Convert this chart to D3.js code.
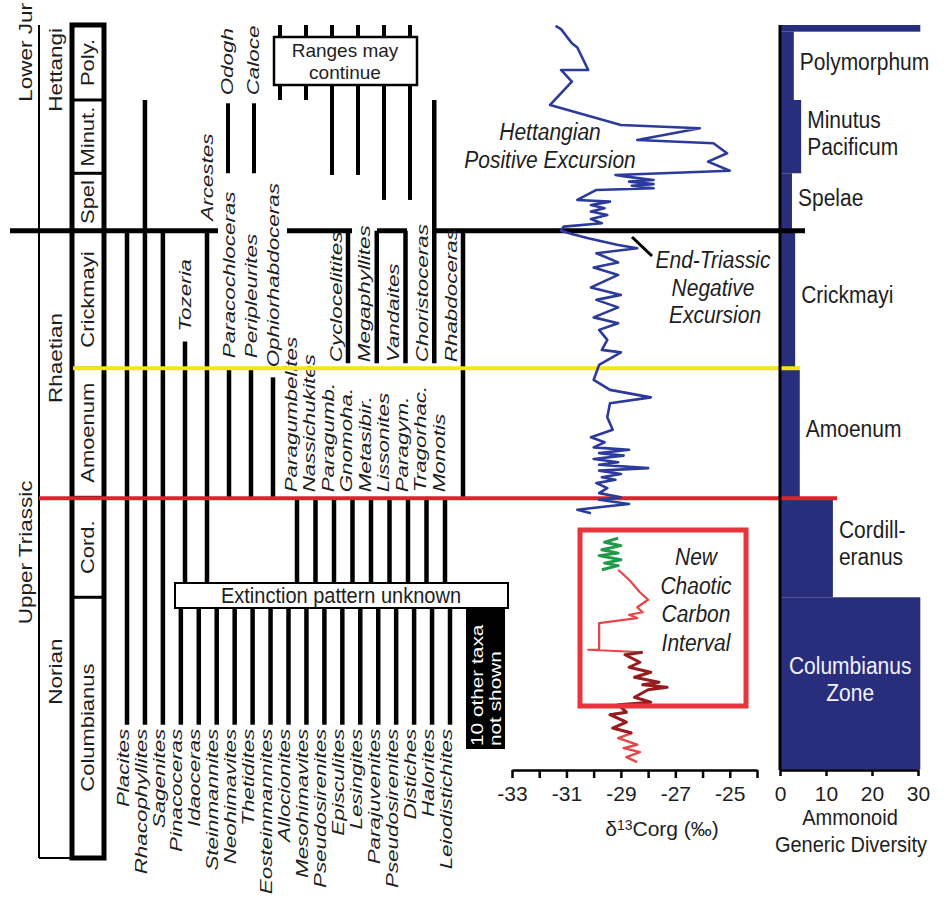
<!DOCTYPE html>
<html><head><meta charset="utf-8"><title>End-Triassic ammonoid ranges</title>
<script src="https://cdn.jsdelivr.net/npm/d3@7/dist/d3.min.js"></script>
<style>
html,body{margin:0;padding:0;background:#fff;}
svg{display:block;}
text{font-family:"Liberation Sans",Arial,Helvetica,sans-serif;}
</style></head>
<body>
<svg id="chart" width="950" height="905" viewBox="0 0 950 905"></svg>
<script>
// ================= DATA =================
// stratigraphic height in relative units (0 = base of section, 100 = top)
const seriesNames = ["Lower Jur", "Upper Triassic"];
const seriesTops = [100, 75.3];
const seriesBases = [75.3, 0];
const stageNames = ["Hettangi", "Rhaetian", "Norian"];
const stageTops = [100, 75.3, 43.3];
const stageBases = [75.3, 43.3, 0];
const zoneNames = ["Poly.", "Minut.", "Spel", "Crickmayi", "Amoenum", "Cord.", "Columbianus"];
const zoneTops = [100, 91.0, 82.2, 75.3, 58.8, 43.3, 31.3];
const zoneBases = [91.0, 82.2, 75.3, 58.8, 43.3, 31.3, 0];
const boundaryTJ = 75.3, boundaryCrickAmoen = 58.8, boundaryNorRhae = 43.3;

// taxa ranges (top / base in stratigraphic height)
const baseTaxa = ["Placites","Rhacophyllites","Sagenites","Pinacoceras","Idaoceras","Steinmannites","Neohimavites","Thetidites","Eosteinmannites","Allocionites","Mesohimavites","Pseudosirenites","Episculites","Lesingites","Parajuvenites","Pseudosirenites","Distiches","Halorites","Leiodistichites"];
const baseTaxaTop = [75.3, 91.0, 75.3, 31.3, 31.3, 31.3, 31.3, 31.3, 31.3, 31.3, 31.3, 31.3, 31.3, 31.3, 31.3, 31.3, 31.3, 31.3, 31.3];
const baseTaxaBase = [16, 16, 16, 16, 16, 16, 16, 16, 16, 16, 16, 16, 16, 16, 16, 16, 16, 16, 16];

const cordTaxa = ["Paragumbelites","Nassichukites","Paragumb.","Gnomoha.","Metasibir.","Lissonites","Paragym.","Tragorhac.","Monotis"];
const cordTaxaTop = [43.3, 43.3, 43.3, 43.3, 43.3, 43.3, 43.3, 43.3, 43.3];
const cordTaxaBase = [31.3, 31.3, 31.3, 31.3, 31.3, 31.3, 31.3, 31.3, 31.3];

const amoenTaxa = ["Tozeria","Arcestes","Paracochloceras","Peripleurites","Ophiorhabdoceras"];
const amoenTaxaTop = [62.0, 75.3, 58.8, 58.8, 57.7];
const amoenTaxaBase = [31.3, 31.3, 43.3, 43.3, 43.3];

const crickTaxa = ["Cyclocelitites","Megaphyllites","Vandaites","Choristoceras","Rhabdoceras"];
const crickTaxaTop = [75.3, 75.3, 75.3, 91.0, 75.3];
const crickTaxaBase = [59.4, 59.4, 59.4, 59.4, 43.3];

const hettTaxa = ["Odogh","Caloce","","","","","",""];
const hettTaxaTop = [90.6, 90.6, 100, 100, 100, 100, 100, 100];
const hettTaxaBase = [82.2, 82.2, 91.0, 91.0, 82.0, 82.0, 79.0, 79.0];

// carbon isotope curves (height, d13Corg permil)
const blueH = [99.9,99.5,97.8,97.3,94.6,94.6,93.2,90.4,88.0,87.6,
  86.2,85.8,84.6,83.6,82.5,82.0,81.8,81.4,81.2,80.9,
  80.7,80.4,80.2,79.0,78.8,78.4,78.0,77.6,77.2,76.7,
  76.2,75.8,75.3,74.9,74.4,73.6,73.2,72.6,71.5,70.9,
  70.0,68.5,67.6,67.0,66.1,64.9,64.2,63.4,62.2,61.0,
  60.7,59.2,57.4,56.2,55.3,54.6,52.9,51.4,50.5,49.9,
  49.3,49.0,48.6,48.3,47.9,47.5,47.2,46.8,46.5,46.1,
  45.7,45.4,45.0,44.4,43.8,43.3,43.0,42.5,42.1,41.8,41.4];
const blueD = [-31.4,-31.2,-30.8,-30.6,-30.2,-31.2,-30.8,-31.6,-29.0,-26.1,
  -28.4,-25.6,-25.1,-25.8,-25.0,-29.2,-28.8,-27.8,-28.7,-27.8,
  -28.6,-27.8,-29.9,-30.6,-29.4,-30.1,-29.6,-30.1,-29.5,-30.1,
  -29.7,-31.1,-31.2,-30.8,-30.2,-29.1,-28.4,-29.9,-29.1,-30.0,
  -29.1,-30.1,-29.0,-29.9,-29.1,-30.0,-29.1,-29.8,-29.5,-29.7,
  -29.0,-29.8,-30.0,-29.4,-27.9,-29.4,-29.5,-29.3,-30.1,-29.6,
  -30.0,-28.7,-29.8,-28.9,-30.0,-29.1,-29.8,-28.0,-29.8,-29.0,
  -29.7,-29.2,-29.9,-29.5,-29.8,-29.0,-29.8,-28.7,-29.8,-30.6,-30.1];
const greenH = [38.4,37.9,37.5,37.0,36.6,36.3,35.8,35.4,35.1,34.6];
const greenD = [-29.1,-29.6,-29.0,-29.7,-29.1,-29.8,-29.0,-29.6,-29.1,-29.7];
const redH = [34.6,33.4,31.9,31.0,30.1,29.5,29.2,28.8,28.2,25.0,25.0,24.7];
const redD = [-29.1,-28.7,-28.3,-28.0,-28.4,-28.2,-28.7,-28.4,-29.8,-29.8,-30.2,-28.2];
const darkRedH = [24.7,24.4,23.5,22.9,22.3,21.7,21.1,20.8,20.5,20.2,19.3,18.7,18.4,17.5,17.2,16.3,15.6,15.0];
const darkRedD = [-28.2,-28.85,-28.3,-28.7,-27.9,-28.5,-27.6,-28.2,-27.3,-28.0,-28.5,-27.9,-29.1,-28.8,-29.4,-28.8,-29.3,-28.6];
const lowRedH = [18.4,17.5,17.2,16.3,15.6,15.0,14.4,13.6,13.2,12.7,12.1,11.5];
const lowRedD = [-29.1,-28.8,-29.4,-28.8,-29.3,-28.6,-29.1,-28.4,-28.9,-28.3,-28.8,-28.4];
const carbonTicks = [-33,-32,-31,-30,-29,-28,-27,-26,-25,-24];
const carbonLabelTicks = [-33,-31,-29,-27,-25];

// ammonoid generic diversity per zone
const divLabels = [[], ["Polymorphum"], ["Minutus","Pacificum"], ["Spelae"], ["Crickmayi"], ["Amoenum"], ["Cordill-","eranus"], ["Columbianus","Zone"]];
const divValues = [30.5, 3.0, 4.6, 2.6, 3.3, 4.3, 11.5, 30.5];
const divTops = [100, 99.2, 91.0, 82.2, 75.3, 58.8, 43.3, 31.3];
const divBases = [99.2, 91.0, 82.2, 75.3, 58.8, 43.3, 31.3, 10.6];
const divTicks = [0, 10, 20, 30];

// ================= DRAWING =================
const svg = d3.select("#chart");
const INK = "#1e1e1e";
const NAVY = "#282e7c";
const BLUE = "#2c3a9c";
const y = d3.scaleLinear().domain([0, 100]).range([858, 25]);
const xC = d3.scaleLinear().domain([-33, -24]).range([512, 757]);
const xD = d3.scaleLinear().domain([0, 30]).range([780, 918]);
const axisY = 770;

function vText(x, yy, str, o = {}) {
  return svg.append("text")
    .attr("transform", `translate(${x},${yy}) rotate(-90) scale(${o.sx || 1.4},1)`)
    .attr("text-anchor", o.anchor || "middle")
    .attr("dy", "0.35em")
    .attr("font-size", o.size || 16)
    .attr("font-style", o.italic ? "italic" : "normal")
    .attr("fill", o.fill || INK)
    .text(str);
}
function hText(x, yy, str, o = {}) {
  return svg.append("text")
    .attr("transform", `translate(${x},${yy}) scale(1,${o.sy || 1.1})`)
    .attr("text-anchor", o.anchor || "middle")
    .attr("font-size", o.size || 21)
    .attr("font-style", o.italic ? "italic" : "normal")
    .attr("fill", o.fill || INK)
    .text(str);
}
function vline(x, y1, y2, w, c) {
  svg.append("line").attr("x1", x).attr("x2", x).attr("y1", y1).attr("y2", y2)
    .attr("stroke", c || "#000").attr("stroke-width", w || 4.5);
}
function hline(x1, x2, yy, w, c) {
  svg.append("line").attr("x1", x1).attr("x2", x2).attr("y1", yy).attr("y2", yy)
    .attr("stroke", c || "#000").attr("stroke-width", w || 3);
}

// ---- stratigraphic columns ----
const STG_L = 39, ZON_L = 72, ZON_R = 104;
vline(STG_L, y(100), y(0), 2);
hline(STG_L, ZON_L, y(0), 2);
svg.append("rect").attr("x", ZON_L).attr("y", y(100)).attr("width", ZON_R - ZON_L)
  .attr("height", y(0) - y(100)).attr("fill", "#fff").attr("stroke", "#000").attr("stroke-width", 5);
zoneBases.slice(0, -1).forEach(b => hline(ZON_L, ZON_R, y(b), 3));

seriesNames.forEach((s, i) => {
  if (i === 0) vText(26, y(seriesTops[i]) - 22, s, {anchor: "end", size: 18, sx: 1.25});
  else vText(26, (y(seriesTops[i]) + y(seriesBases[i])) / 2 + 8, s, {size: 18, sx: 1.25});
});
stageNames.forEach((s, i) => {
  if (i === 0) vText(56, y(stageTops[i]) + 3, s, {anchor: "end", size: 18, sx: 1.25});
  else vText(56, (y(stageTops[i]) + y(stageBases[i])) / 2 - 6, s, {size: 18, sx: 1.25});
});
zoneNames.forEach((z, i) => {
  vText(88, (y(zoneTops[i]) + y(zoneBases[i])) / 2, z, {size: 18, sx: 1.22});
});

// ---- diversity bars (under boundary lines) ----
divValues.forEach((v, i) => {
  svg.append("rect").attr("x", xD(0)).attr("y", y(divTops[i]))
    .attr("width", xD(v) - xD(0)).attr("height", y(divBases[i]) - y(divTops[i]))
    .attr("fill", NAVY);
});

// ---- taxa range bars ----
const xBase = d3.scalePoint().domain(d3.range(baseTaxa.length)).range([127, 450]);
const xCord = d3.scalePoint().domain(d3.range(cordTaxa.length)).range([297, 445]);
const xAmoen = d3.scalePoint().domain(d3.range(amoenTaxa.length)).range([185, 273]);
const xCrick = d3.scalePoint().domain(d3.range(crickTaxa.length)).range([348, 463]);
const xHett = d3.scalePoint().domain(d3.range(hettTaxa.length)).range([228, 410]);

baseTaxa.forEach((t, i) => vline(xBase(i), y(baseTaxaTop[i]), y(baseTaxaBase[i])));
cordTaxa.forEach((t, i) => vline(xCord(i), y(cordTaxaTop[i]), y(cordTaxaBase[i])));
amoenTaxa.forEach((t, i) => vline(xAmoen(i), y(amoenTaxaTop[i]), y(amoenTaxaBase[i])));
crickTaxa.forEach((t, i) => vline(xCrick(i), y(crickTaxaTop[i]), y(crickTaxaBase[i])));
hettTaxa.forEach((t, i) => vline(xHett(i), y(hettTaxaTop[i]), y(hettTaxaBase[i]), 4));

// ---- Triassic/Jurassic boundary (broken around labels) ----
[[10, 218], [287, 352], [377, 407], [435, 805]].forEach(s => hline(s[0], s[1], y(boundaryTJ), 5));

// ---- boxes ----
svg.append("rect").attr("x", 274).attr("y", 37).attr("width", 143).attr("height", 48)
  .attr("fill", "#fff").attr("stroke", "#000").attr("stroke-width", 2.5);
hText(345, 57, "Ranges may", {size: 19, sy: 1.0});
hText(345, 79, "continue", {size: 19, sy: 1.0});

svg.append("rect").attr("x", 466).attr("y", 585).attr("width", 39).attr("height", 164).attr("fill", "#000");
vText(477, 746, "10 other taxa", {anchor: "start", size: 16, sx: 1.3, fill: "#fff"});
vText(495, 746, "not shown", {anchor: "start", size: 16, sx: 1.3, fill: "#fff"});

svg.append("rect").attr("x", 175).attr("y", 583).attr("width", 333).attr("height", 25)
  .attr("fill", "#fff").attr("stroke", "#000").attr("stroke-width", 2);
hText(341, 603, "Extinction pattern unknown", {size: 20});

// ---- taxa labels ----
baseTaxa.forEach((t, i) => vText(xBase(i) - 4, y(baseTaxaBase[i]) + 4, t, {anchor: "end", italic: true}));
cordTaxa.forEach((t, i) => vText(xCord(i) - 6, y(cordTaxaTop[i]) - 5, t, {anchor: "start", italic: true}));
amoenTaxa.forEach((t, i) => vText(xAmoen(i), y(amoenTaxaTop[i]) - 10, t, {anchor: "start", italic: true}));
crickTaxa.forEach((t, i) => vText(xCrick(i) - 12, y(59.4) - 1, t, {anchor: "start", italic: true}));
hettTaxa.forEach((t, i) => { if (t) vText(xHett(i) - 1, y(hettTaxaTop[i]) - 8, t, {anchor: "start", italic: true}); });

// ---- zone boundary coloured lines ----
hline(ZON_L + 1, 800, y(boundaryCrickAmoen), 4, "#f4e614");
hline(STG_L, 837, y(boundaryNorRhae) + 1, 4, "#e0202b");

// ---- carbon isotope curves ----
const line = d3.line().x(d => xC(d[1])).y(d => y(d[0]));
function curve(H, D, color, w) {
  svg.append("path").datum(d3.zip(H, D)).attr("d", line)
    .attr("fill", "none").attr("stroke", color).attr("stroke-width", w).attr("stroke-linejoin", "round");
}
curve(blueH, blueD, BLUE, 2.6);
curve(redH, redD, "#e8454b", 2.2);
curve(lowRedH, lowRedD, "#e8454b", 2.4);
curve(darkRedH, darkRedD, "#951d20", 3);
curve(greenH, greenD, "#1f9a48", 3);

svg.append("rect").attr("x", 580).attr("y", 530).attr("width", 166).attr("height", 176)
  .attr("fill", "none").attr("stroke", "#e8343c").attr("stroke-width", 5);
["New", "Chaotic", "Carbon", "Interval"].forEach((s, i) => hText(696, 565 + i * 28.5, s, {italic: true, size: 21}));
hText(550, 140, "Hettangian", {italic: true, size: 21});
hText(550, 168, "Positive Excursion", {italic: true, size: 21});
hText(713, 268, "End-Triassic", {italic: true, size: 21});
hText(713, 296, "Negative", {italic: true, size: 21});
hText(715, 323, "Excursion", {italic: true, size: 21});
svg.append("line").attr("x1", 632).attr("y1", 237).attr("x2", 652).attr("y2", 256)
  .attr("stroke", "#000").attr("stroke-width", 3);

// carbon axis
const axC = svg.append("g").attr("transform", `translate(0,${axisY})`)
  .call(d3.axisBottom(xC).tickValues(carbonTicks).tickSize(8).tickSizeOuter(0).tickPadding(8)
    .tickFormat(d => carbonLabelTicks.includes(d) ? String(d) : ""));
axC.select(".domain").attr("stroke", "#000").attr("stroke-width", 2.5);
axC.selectAll(".tick line").attr("stroke", "#000").attr("stroke-width", 2.5);
axC.selectAll("text").attr("font-size", 21).attr("fill", INK)
  .attr("font-family", '"Liberation Sans",Arial,sans-serif');
const lab = svg.append("text").attr("x", 662).attr("y", 836).attr("text-anchor", "middle")
  .attr("font-size", 21).attr("fill", INK);
lab.append("tspan").text("δ");
lab.append("tspan").attr("font-size", 14).attr("dy", -6).text("13");
lab.append("tspan").attr("dy", 6).text("Corg (‰)");

// ---- diversity axis & labels ----
vline(xD(0), y(100), axisY, 3, "#000");
const axD = svg.append("g").attr("transform", `translate(0,${axisY})`)
  .call(d3.axisBottom(xD).tickValues(divTicks).tickSize(6).tickSizeOuter(0).tickPadding(10));
axD.select(".domain").attr("stroke", "#000").attr("stroke-width", 2.5);
axD.selectAll(".tick line").attr("stroke", "#000").attr("stroke-width", 2.5);
axD.selectAll("text").attr("font-size", 21).attr("fill", INK)
  .attr("font-family", '"Liberation Sans",Arial,sans-serif');
hText(850, 825, "Ammonoid", {size: 20});
hText(851, 852, "Generic Diversity", {size: 20});

divLabels.forEach((lines, i) => {
  const mid = (y(divTops[i]) + y(divBases[i])) / 2;
  const inside = i === divLabels.length - 1;
  lines.forEach((s, j) => {
    const yy = mid + 4 - (lines.length - 1) * 13 + j * 27;
    if (inside) hText((xD(0) + xD(divValues[i])) / 2, yy, s, {size: 21, fill: "#f2f2ff"});
    else hText(xD(divValues[i]) + 6, yy, s, {size: 21, anchor: "start"});
  });
});
</script>
</body></html>
